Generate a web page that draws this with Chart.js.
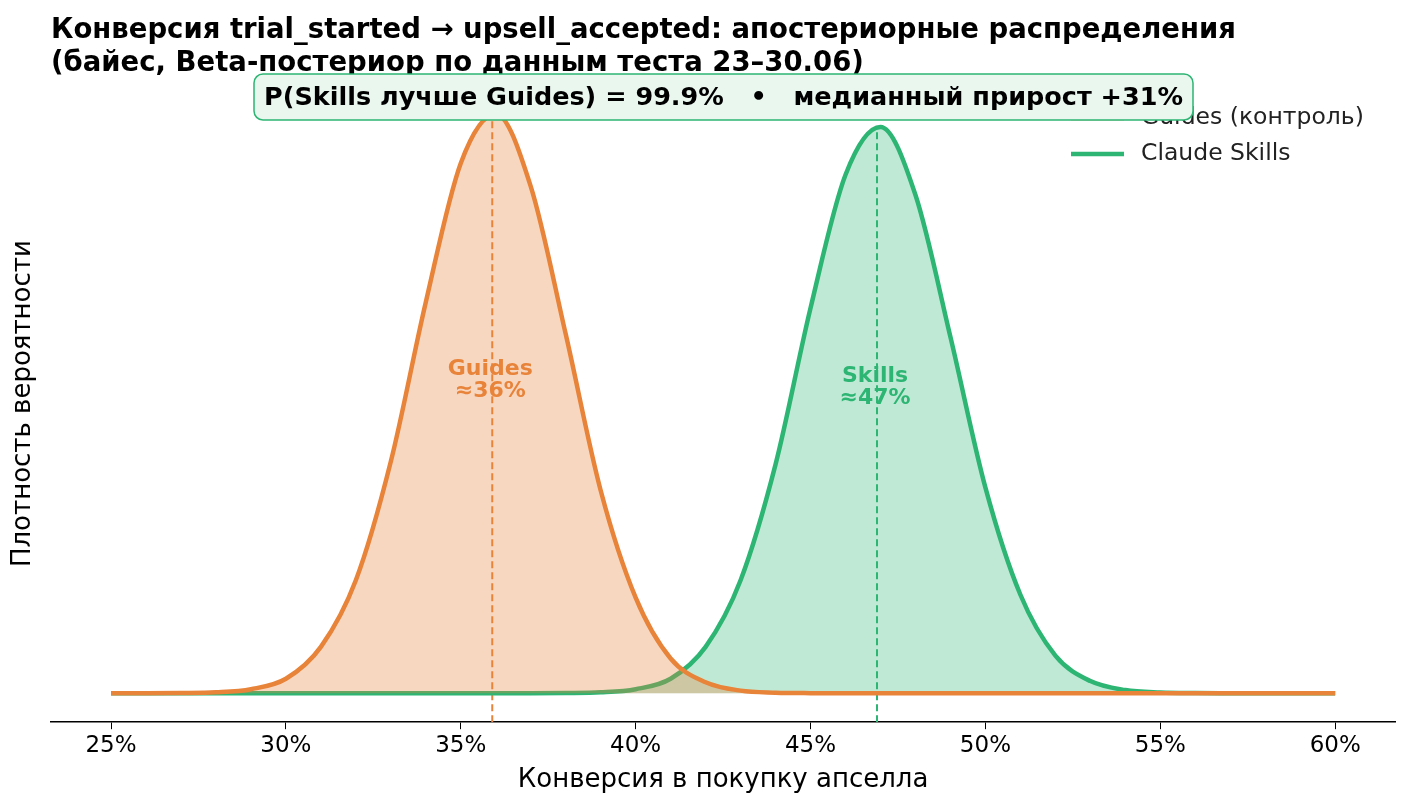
<!DOCTYPE html>
<html>
<head>
<meta charset="utf-8">
<script src="https://cdn.jsdelivr.net/npm/chart.js@4.4.1/dist/chart.umd.min.js"></script>
<style>
  html, body { margin: 0; padding: 0; background: #fff; }
  #wrap { width: 1411px; height: 800px; }
</style>
</head>
<body>
<div id="wrap"><canvas id="c" width="1411" height="800"></canvas></div>
<script>
// conversion grid, %
const xs = [25,26,27,28,29,30,31,32,33,34,35,36,37,38,39,40,41,42,43,44,45,46,47,48,49,50,51,52,53,54,55,56,57,58,59,60];
// posterior density (per 100 p.p.)
const guides = [0,0,0.005,0.03,0.14,0.5,1.6,3.9,8.0,13.5,18.3,20,17.5,12.4,7.0,3.3,1.2,0.38,0.09,0.02,0.003,0,0,0,0,0,0,0,0,0,0,0,0,0,0,0];
const skills = [0,0,0,0,0,0,0,0,0,0,0,0,0,0.005,0.03,0.14,0.5,1.6,3.9,7.9,13.3,17.9,19.55,17.2,12.3,7.1,3.4,1.3,0.42,0.11,0.025,0.005,0,0,0,0];
const medians = { guides: 35.9, skills: 46.9 };
const xTicks = [25,30,35,40,45,50,55,60];

const ORANGE = '#E8833A', GREEN = '#2DB573';
const FONT = '"DejaVu Sans", sans-serif';

const toPts = arr => xs.map((x, i) => ({ x: x, y: arr[i] }));

const overlay = {
    id: 'overlay',
    afterDraw(chart) {
        const c = chart.ctx, sx = chart.scales.x;
        c.save();
        // title
        c.fillStyle = '#000';
        c.font = 'bold 27.5px ' + FONT;
        c.textAlign = 'left';
        c.textBaseline = 'alphabetic';
        c.fillText('Конверсия trial_started → upsell_accepted: апостериорные распределения', 51, 38);
        c.fillText('(байес, Beta-постериор по данным теста 23–30.06)', 51, 71);

        // labels on peaks
        c.font = 'bold 22px ' + FONT;
        c.textAlign = 'center';
        c.fillStyle = ORANGE;
        c.fillText('Guides', sx.getPixelForValue(medians.guides) - 2, 375);
        c.fillText('≈36%', sx.getPixelForValue(medians.guides) - 2, 397);
        c.fillStyle = GREEN;
        c.fillText('Skills', sx.getPixelForValue(medians.skills) - 2, 382);
        c.fillText('≈47%', sx.getPixelForValue(medians.skills) - 2, 404);

        // legend
        c.lineWidth = 4.5;
        [[ORANGE, 'Guides (контроль)', 118], [GREEN, 'Claude Skills', 154]].forEach(([col, txt, y]) => {
            c.strokeStyle = col;
            c.beginPath(); c.moveTo(1071, y); c.lineTo(1124, y); c.stroke();
            c.fillStyle = '#222';
            c.font = '23.5px ' + FONT;
            c.textAlign = 'left';
            c.textBaseline = 'middle';
            c.fillText(txt, 1141, y);
        });

        // annotation box
        const bx = 254, by = 74, bw = 939, bh = 46, r = 9;
        c.beginPath();
        c.roundRect(bx, by, bw, bh, r);
        c.fillStyle = '#E9F7EF';
        c.fill();
        c.lineWidth = 1.5;
        c.strokeStyle = GREEN;
        c.stroke();
        c.fillStyle = '#000';
        c.font = 'bold 25.5px ' + FONT;
        c.textAlign = 'center';
        c.textBaseline = 'middle';
        c.fillText('P(Skills лучше Guides) = 99.9%   •   медианный прирост +31%', bx + bw / 2, by + bh / 2 + 1);
        c.restore();
    }
};

new Chart(document.getElementById('c'), {
    type: 'line',
    data: {
        datasets: [
            {
                label: 'Guides (контроль)',
                data: toPts(guides),
                borderColor: ORANGE,
                backgroundColor: 'rgba(232,131,58,0.32)',
                borderWidth: 4.5,
                fill: 'origin',
                cubicInterpolationMode: 'monotone',
                pointRadius: 0
            },
            {
                label: 'Claude Skills',
                data: toPts(skills),
                borderColor: GREEN,
                backgroundColor: 'rgba(45,181,115,0.3)',
                borderWidth: 4.5,
                fill: 'origin',
                cubicInterpolationMode: 'monotone',
                pointRadius: 0
            },
            {
                label: 'med guides',
                data: [{ x: medians.guides, y: -1 }, { x: medians.guides, y: 20 }],
                borderColor: ORANGE,
                borderWidth: 2,
                borderDash: [7, 4],
                pointRadius: 0,
                fill: false
            },
            {
                label: 'med skills',
                data: [{ x: medians.skills, y: -1 }, { x: medians.skills, y: 19.55 }],
                borderColor: GREEN,
                borderWidth: 2,
                borderDash: [7, 4],
                pointRadius: 0,
                fill: false
            }
        ]
    },
    options: {
        responsive: false,
        animation: false,
        layout: { padding: { top: 85, left: 4, right: 16, bottom: 0 } },
        plugins: { legend: { display: false }, tooltip: { enabled: false } },
        scales: {
            x: {
                type: 'linear',
                min: 23.29,
                max: 61.71,
                afterBuildTicks: s => { s.ticks = xTicks.map(v => ({ value: v })); },
                ticks: {
                    callback: v => v + '%',
                    color: '#000',
                    font: { size: 23, family: FONT },
                    maxRotation: 0
                },
                grid: { display: true, drawOnChartArea: false, drawTicks: true, tickLength: 7, color: '#000' },
                border: { display: true, color: '#000', width: 1.5 },
                title: { display: true, text: 'Конверсия в покупку апселла', color: '#000', font: { size: 26, family: FONT }, padding: { top: 2, bottom: 4 } }
            },
            y: {
                min: -1,
                max: 21,
                ticks: { display: false },
                grid: { display: false },
                border: { display: false },
                title: { display: true, text: 'Плотность вероятности', color: '#000', font: { size: 26, family: FONT } }
            }
        }
    },
    plugins: [overlay]
});
</script>
</body>
</html>
